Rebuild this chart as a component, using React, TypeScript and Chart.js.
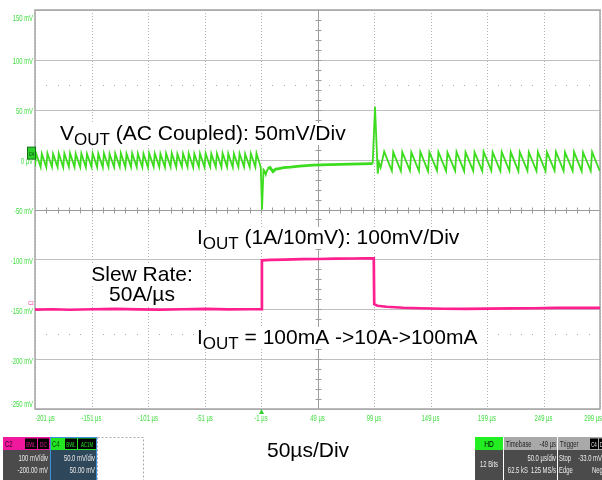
import React, { useEffect, useRef } from "react";
import { Chart, registerables } from "chart.js";

Chart.register(...registerables);

// ---------- axes ----------
const timeTicks = [-201, -151, -101, -51, -1, 49, 99, 149, 199, 249, 299];
const timeTickLabels = ["-201 µs", "-151 µs", "-101 µs", "-51 µs", "-1 µs", "49 µs", "99 µs", "149 µs", "199 µs", "249 µs", "299 µs"];
const voltTicks = [150, 100, 50, 0, -50, -100, -150, -200, -250];
const voltTickLabels = ["150 mV", "100 mV", "50 mV", "0 µV", "-50 mV", "-100 mV", "-150 mV", "-200 mV", "-250 mV"];
const centerTime = 49;
const centerVolt = -50;
const subGridVolts = [75, -175];
const minorTimeStep = 10;
const minorVoltStep = 10;
const triggerTime = -1;
const vOffsetLevel = 0;
const iOffsetLevel = -150;
const plateauStart = 4;
const plateauEnd = 98;

// ---------- VOUT (C4, AC coupled, mV) ----------
const voutTimeBefore = [
  -201,
  -200, -196, -195, -191, -190, -186, -185, -181, -180, -176,
  -175, -171, -170, -166, -165, -161, -160, -156, -155, -151,
  -150, -146, -145, -141, -140, -136, -135, -131, -130, -126,
  -125, -121, -120, -116, -115, -111, -110, -106, -105, -101,
  -100, -96, -95, -91, -90, -86, -85, -81, -80, -76,
  -75, -71, -70, -66, -65, -61, -60, -56, -55, -51,
  -50, -46, -45, -41, -40, -36, -35, -31, -30, -26,
  -25, -21, -20, -16, -15, -11, -10, -6, -5, -1.2,
];
const voutMvBefore = [
  -7.0,
  6.2, -7.4, 6.0, -7.6, 6.4, -7.2, 5.8, -7.5, 6.3, -7.8,
  6.1, -7.3, 6.5, -7.6, 6.0, -7.4, 6.2, -7.7, 5.9, -7.2,
  6.4, -7.5, 6.1, -7.8, 6.3, -7.4, 5.8, -7.6, 6.2, -7.3,
  6.5, -7.7, 6.0, -7.5, 6.3, -7.4, 6.1, -7.6, 5.9, -7.8,
  6.4, -7.3, 6.2, -7.5, 6.0, -7.7, 6.3, -7.4, 6.5, -7.6,
  5.8, -7.2, 6.1, -7.5, 6.4, -7.8, 6.0, -7.4, 6.2, -7.6,
  6.3, -7.3, 5.9, -7.5, 6.1, -7.7, 6.4, -7.4, 6.2, -7.6,
  6.0, -7.5, 6.3, -7.3, 5.8, -7.6, 6.2, -7.4, 6.4, -8.0,
];
const voutTimeStep = [-0.1, 1.2, 2.0, 3.2, 5.0, 7.0, 9.6, 12, 15, 19, 25, 33, 45, 60, 78, 97.8, 99.9, 102.3, 103.4, 104.9];
const voutMvStep = [-50, -10, -11, -15, -9, -8, -12, -9.5, -9, -8, -7.5, -6.5, -5.5, -5, -4.5, -4, 53, -14, -3, -8];
const voutTimeAfter = [
  108, 114.8, 116, 122.8, 124, 130.8, 132, 138.8, 140, 146.8,
  148, 154.8, 156, 162.8, 164, 170.8, 172, 178.8, 180, 186.8,
  188, 194.8, 196, 202.8, 204, 210.8, 212, 218.8, 220, 226.8,
  228, 234.8, 236, 242.8, 244, 250.8, 252, 258.8, 260, 266.8,
  268, 274.8, 276, 282.8, 284, 290.8, 292, 298.8,
];
const voutMvAfter = [
  8.0, -11.2, 7.6, -11.5, 7.8, -11.0, 7.4, -11.4, 7.9, -11.6,
  7.5, -11.1, 7.7, -11.5, 7.3, -11.3, 7.8, -11.6, 7.6, -11.2,
  7.4, -11.4, 7.9, -11.0, 7.5, -11.5, 7.7, -11.3, 7.6, -11.6,
  7.8, -11.2, 7.4, -11.4, 7.7, -11.5, 7.5, -11.1, 7.9, -11.4,
  7.6, -11.3, 7.8, -11.6, 7.4, -11.2, 7.7, -11.4,
];

// ---------- IOUT (C2, mV on probe, 1A/10mV) ----------
const ioutTime = [-201, -185, -170, -150, -130, -110, -90, -70, -50, -30, -12, -0.6, -0.2, 8, 20, 35, 50, 65, 80, 92, 98.8, 99.2, 102, 110, 125, 140, 160, 180, 200, 220, 240, 260, 280, 299];
const ioutMv = [-150.3, -150, -150.5, -150, -149.6, -150.2, -150.4, -150, -149.7, -150.2, -150, -150, -101, -100.6, -100.2, -99.8, -99.6, -99.3, -99.1, -99, -99, -145, -146.5, -147.5, -148.5, -149, -149.5, -149.6, -149.3, -149.1, -149, -148.7, -148.6, -148.6];

const GREEN = "#3ddc1f";
const PINK = "#ff1f8f";
const LABEL_GREEN = "#3fdc3f";
const SANS = '"Liberation Sans", Arial, Helvetica, sans-serif';

function txt(ctx: any, s: string, x: number, y: number, size: number, color: string, align: string = "left", sx: number = 1) {
  ctx.save();
  ctx.translate(x, y);
  ctx.scale(sx, 1);
  ctx.font = `${size}px ${SANS}`;
  ctx.fillStyle = color;
  ctx.textAlign = align;
  ctx.textBaseline = "alphabetic";
  ctx.fillText(s, 0, 0);
  ctx.restore();
}

function rich(ctx: any, parts: { s: string; size: number; dy: number }[], x: number, base: number, align: string = "left") {
  let w = 0;
  const ws: number[] = [];
  for (const p of parts) {
    ctx.font = `${p.size}px ${SANS}`;
    const m = ctx.measureText(p.s).width;
    ws.push(m);
    w += m;
  }
  let cx = align === "center" ? x - w / 2 : x;
  ctx.fillStyle = "#ffffff";
  ctx.fillRect(cx - 2, base - 17, w + 4, 22);
  parts.forEach((p, i) => {
    ctx.font = `${p.size}px ${SANS}`;
    ctx.fillStyle = "#000000";
    ctx.textAlign = "left";
    ctx.textBaseline = "alphabetic";
    ctx.fillText(p.s, cx, base + p.dy);
    cx += ws[i];
  });
}

function box(ctx: any, x: number, y: number, w: number, h: number, fill: string) {
  ctx.fillStyle = fill;
  ctx.fillRect(x, y, w, h);
}

const scopePlugin = {
  id: "scopeDecor",
  beforeDatasetsDraw(chart: any) {
    const { ctx, chartArea: a, scales } = chart;
    const x = scales.x;
    const y = scales.y;
    ctx.save();
    ctx.lineWidth = 1;
    ctx.strokeStyle = "#c0c0c0";
    for (const v of voltTicks) {
      const py = Math.round(y.getPixelForValue(v)) + 0.5;
      ctx.beginPath();
      ctx.moveTo(a.left, py);
      ctx.lineTo(a.right, py);
      ctx.stroke();
    }
    ctx.setLineDash([1, 2]);
    ctx.strokeStyle = "#b4b4b4";
    for (const t of timeTicks) {
      const px = Math.round(x.getPixelForValue(t)) + 0.5;
      ctx.beginPath();
      ctx.moveTo(px, a.top);
      ctx.lineTo(px, a.bottom);
      ctx.stroke();
    }
    ctx.setLineDash([]);
    ctx.fillStyle = "#a8a8a8";
    for (const v of subGridVolts) {
      const py = Math.round(y.getPixelForValue(v));
      for (let t = timeTicks[0] + minorTimeStep; t < timeTicks[timeTicks.length - 1]; t += minorTimeStep) {
        if (timeTicks.indexOf(t) >= 0) continue;
        const px = Math.round(x.getPixelForValue(t));
        ctx.fillRect(px, py, 1, 1);
      }
    }
    ctx.strokeStyle = "#9c9c9c";
    ctx.lineWidth = 1;
    const cxp = Math.round(x.getPixelForValue(centerTime)) + 0.5;
    const cyp = Math.round(y.getPixelForValue(centerVolt)) + 0.5;
    ctx.beginPath();
    ctx.moveTo(cxp, a.top);
    ctx.lineTo(cxp, a.bottom);
    ctx.moveTo(a.left, cyp);
    ctx.lineTo(a.right, cyp);
    for (let t = timeTicks[0] + minorTimeStep; t < timeTicks[timeTicks.length - 1]; t += minorTimeStep) {
      const px = Math.round(x.getPixelForValue(t)) + 0.5;
      ctx.moveTo(px, cyp - 3);
      ctx.lineTo(px, cyp + 3);
    }
    for (let v = voltTicks[voltTicks.length - 1] + minorVoltStep; v < voltTicks[0]; v += minorVoltStep) {
      const py = Math.round(y.getPixelForValue(v)) + 0.5;
      ctx.moveTo(cxp - 3, py);
      ctx.lineTo(cxp + 3, py);
    }
    ctx.stroke();
    ctx.strokeStyle = "#a4a4a4";
    ctx.lineWidth = 1.5;
    ctx.strokeRect(a.left, a.top, a.right - a.left, a.bottom - a.top);
    ctx.restore();
  },
  afterDatasetsDraw(chart: any) {
    const { ctx, chartArea: a, scales, width } = chart;
    const x = scales.x;
    const y = scales.y;
    ctx.save();
    voltTicks.forEach((v, i) => {
      const py = y.getPixelForValue(v);
      const base = Math.min(Math.max(py + 4.5, a.top + 11), a.bottom - 2);
      txt(ctx, voltTickLabels[i], a.left - 2, base, 9.5, LABEL_GREEN, "right", 0.62);
    });
    timeTicks.forEach((t, i) => {
      const px = x.getPixelForValue(t);
      if (i === 0) txt(ctx, timeTickLabels[i], a.left, a.bottom + 12, 9.5, LABEL_GREEN, "left", 0.62);
      else if (i === timeTicks.length - 1) txt(ctx, timeTickLabels[i], width, a.bottom + 12, 9.5, LABEL_GREEN, "right", 0.62);
      else txt(ctx, timeTickLabels[i], px, a.bottom + 12, 9.5, LABEL_GREEN, "center", 0.62);
    });
    const tx = Math.round(x.getPixelForValue(triggerTime)) + 0.5;
    ctx.fillStyle = "#2fd02f";
    ctx.beginPath();
    ctx.moveTo(tx, a.bottom);
    ctx.lineTo(tx - 2.5, a.bottom + 5);
    ctx.lineTo(tx + 2.5, a.bottom + 5);
    ctx.closePath();
    ctx.fill();
    const vy = y.getPixelForValue(vOffsetLevel);
    ctx.fillStyle = "#2ccf2c";
    ctx.strokeStyle = "#137313";
    ctx.lineWidth = 1;
    ctx.fillRect(27.5, vy - 12.5, 8, 12);
    ctx.strokeRect(27.5, vy - 12.5, 8, 12);
    txt(ctx, "C4", 31.5, vy - 4, 6, "#0b3b0b", "center", 0.7);
    const iy = y.getPixelForValue(iOffsetLevel);
    txt(ctx, "C2", 31, iy - 4, 6, PINK, "center", 0.7);

    rich(ctx, [
      { s: "V", size: 21, dy: 0 },
      { s: "OUT", size: 17, dy: 5 },
      { s: " (AC Coupled): 50mV/Div", size: 21, dy: 0 },
    ], 60, 140);
    rich(ctx, [
      { s: "I", size: 21, dy: 0 },
      { s: "OUT", size: 17, dy: 5 },
      { s: " (1A/10mV): 100mV/Div", size: 21, dy: 0 },
    ], 197, 244);
    rich(ctx, [{ s: "Slew Rate:", size: 21, dy: 0 }], 142, 281, "center");
    rich(ctx, [{ s: "50A/µs", size: 21, dy: 0 }], 142, 301, "center");
    rich(ctx, [
      { s: "I", size: 21, dy: 0 },
      { s: "OUT", size: 17, dy: 5 },
      { s: " = 100mA ->10A->100mA", size: 21, dy: 0 },
    ], 197, 344);
    rich(ctx, [{ s: "50µs/Div", size: 21, dy: 0 }], 267, 457);

    const sx = 0.62;
    box(ctx, 3, 437, 47, 13, "#f0189c");
    txt(ctx, "C2", 5, 447, 9.5, "#3a0024", "left", sx);
    box(ctx, 25, 438.5, 12, 10.5, "#000");
    txt(ctx, "BWL", 31, 447, 8, "#f0189c", "center", 0.55);
    box(ctx, 38, 438.5, 11, 10.5, "#000");
    txt(ctx, "DC", 43.5, 447, 8, "#f0189c", "center", 0.6);
    box(ctx, 3, 450, 47, 30, "#4b4b4b");
    txt(ctx, "100 mV/div", 48, 461, 9.5, "#ececec", "right", sx);
    txt(ctx, "-200.00 mV", 48, 473, 9.5, "#ececec", "right", sx);

    box(ctx, 50, 437, 47, 13, "#22e622");
    txt(ctx, "C4", 52, 447, 9.5, "#0a3a0a", "left", sx);
    box(ctx, 65, 438.5, 12, 10.5, "#000");
    txt(ctx, "BWL", 71, 447, 8, "#22e622", "center", 0.55);
    box(ctx, 78, 438.5, 18, 10.5, "#000");
    txt(ctx, "AC1M", 87, 447, 8, "#22e622", "center", 0.55);
    box(ctx, 50, 450, 47, 30, "#2f475a");
    ctx.strokeStyle = "#3d8fe0";
    ctx.lineWidth = 1;
    ctx.strokeRect(50.5, 437.5, 46, 43);
    txt(ctx, "50.0 mV/div", 95, 461, 9.5, "#ececec", "right", sx);
    txt(ctx, "50.00 mV", 95, 473, 9.5, "#ececec", "right", sx);

    ctx.setLineDash([2, 2]);
    ctx.strokeStyle = "#a8a8a8";
    ctx.strokeRect(97.5, 437.5, 46, 43);
    ctx.setLineDash([]);

    box(ctx, 475, 437, 28, 13, "#22ee22");
    txt(ctx, "HD", 489, 447, 9.5, "#000", "center", 0.7);
    box(ctx, 475, 450, 28, 30, "#4b4b4b");
    txt(ctx, "12 Bits", 489, 467, 9.5, "#ececec", "center", sx);

    box(ctx, 504, 437, 53, 13, "#a9a9a9");
    txt(ctx, "Timebase", 506, 447, 9.5, "#1e1e1e", "left", sx);
    txt(ctx, "-49 µs", 556, 447, 9.5, "#1e1e1e", "right", sx);
    box(ctx, 504, 450, 53, 30, "#4b4b4b");
    txt(ctx, "50.0 µs/div", 556, 461, 9.5, "#ececec", "right", sx);
    txt(ctx, "62.5 kS  125 MS/s", 556, 473, 9.5, "#ececec", "right", sx);

    box(ctx, 558, 437, 44, 13, "#a9a9a9");
    txt(ctx, "Trigger", 560, 447, 9.5, "#1e1e1e", "left", sx);
    box(ctx, 590, 438.5, 8, 10.5, "#000");
    txt(ctx, "C4", 594, 447, 8, "#e0e0e0", "center", 0.55);
    box(ctx, 599, 438.5, 8, 10.5, "#000");
    txt(ctx, "DC", 603, 447, 8, "#e0e0e0", "center", 0.55);
    box(ctx, 558, 450, 44, 30, "#4b4b4b");
    txt(ctx, "Stop", 559, 461, 9.5, "#ececec", "left", sx);
    txt(ctx, "-33.0 mV", 578, 461, 9.5, "#ececec", "left", sx);
    txt(ctx, "Edge", 559, 473, 9.5, "#ececec", "left", sx);
    txt(ctx, "Neg", 592, 473, 9.5, "#ececec", "left", sx);
    ctx.restore();
  },
};

export default function App() {
  const ref = useRef<HTMLCanvasElement | null>(null);
  useEffect(() => {
    if (!ref.current) return;
    const voutT = voutTimeBefore.concat(voutTimeStep, voutTimeAfter);
    const voutV = voutMvBefore.concat(voutMvStep, voutMvAfter);
    const chart = new Chart(ref.current, {
      type: "line",
      data: {
        datasets: [
          {
            label: "VOUT",
            data: voutT.map((t, i) => ({ x: t, y: voutV[i] })),
            borderColor: GREEN,
            borderWidth: 1.8,
            pointRadius: 0,
            tension: 0,
            fill: false,
            segment: {
              borderWidth: (c: any) =>
                c.p0.parsed.x >= plateauStart && c.p1.parsed.x <= plateauEnd ? 2.8 : 1.8,
            },
          },
          {
            label: "IOUT",
            data: ioutTime.map((t, i) => ({ x: t, y: ioutMv[i] })),
            borderColor: PINK,
            borderWidth: 2.7,
            pointRadius: 0,
            tension: 0,
            fill: false,
          },
        ],
      },
      options: {
        animation: false,
        responsive: false,
        maintainAspectRatio: false,
        devicePixelRatio: 1,
        layout: { padding: { left: 0, right: 2, top: 10, bottom: 0 } },
        plugins: { legend: { display: false }, tooltip: { enabled: false } },
        scales: {
          x: {
            type: "linear",
            min: timeTicks[0],
            max: timeTicks[timeTicks.length - 1],
            afterBuildTicks: (s: any) => {
              s.ticks = timeTicks.map((v) => ({ value: v }));
            },
            afterFit: (s: any) => {
              s.height = 71;
            },
            ticks: { display: false },
            grid: { display: false },
            border: { display: false },
          },
          y: {
            type: "linear",
            min: voltTicks[voltTicks.length - 1],
            max: voltTicks[0],
            afterBuildTicks: (s: any) => {
              s.ticks = voltTicks.map((v) => ({ value: v }));
            },
            afterFit: (s: any) => {
              s.width = 35;
            },
            ticks: { display: false },
            grid: { display: false },
            border: { display: false },
          },
        },
      } as any,
      plugins: [scopePlugin as any],
    });
    return () => chart.destroy();
  }, []);
  return (
    <div style={{ position: "absolute", left: 0, top: 0, width: 602, height: 480, background: "#fff" }}>
      <canvas ref={ref} width={602} height={480} style={{ display: "block", width: 602, height: 480 }} />
    </div>
  );
}
